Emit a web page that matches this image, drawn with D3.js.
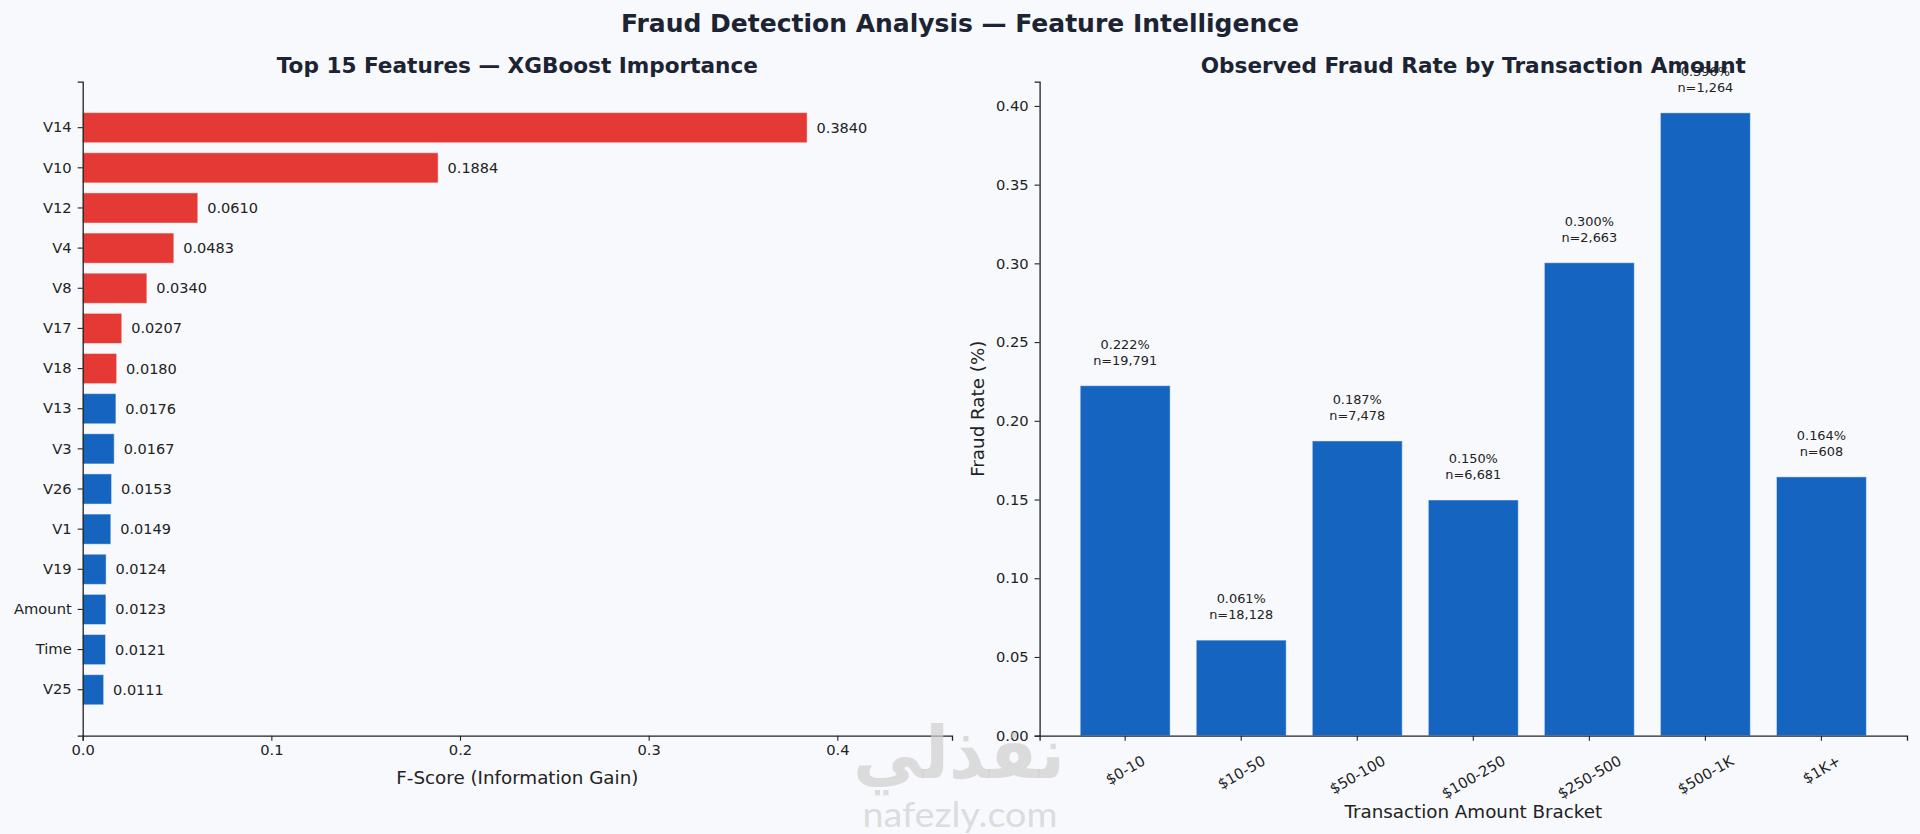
<!DOCTYPE html>
<html>
<head>
<meta charset="utf-8">
<script src="https://cdn.jsdelivr.net/npm/d3@7"></script>
<style>
  html, body { margin: 0; padding: 0; background: #f7f9fc; }
  svg { display: block; font-family: "DejaVu Sans", sans-serif; }
</style>
</head>
<body>
<svg id="chart" width="1920" height="834"></svg>
<script>
// left panel: XGBoost feature importance (top 15)
let features = ['V14', 'V10', 'V12', 'V4', 'V8', 'V17', 'V18', 'V13', 'V3', 'V26', 'V1', 'V19', 'Amount', 'Time', 'V25'];
let importance = [0.384, 0.1884, 0.061, 0.0483, 0.034, 0.0207, 0.018, 0.0176, 0.0167, 0.0153, 0.0149, 0.0124, 0.0123, 0.0121, 0.0111];
let highlighted = [true, true, true, true, true, true, true, false, false, false, false, false, false, false, false];
let importanceTicks = [0, 0.1, 0.2, 0.3, 0.4];

// right panel: observed fraud rate by amount bracket
let brackets = ['$0-10', '$10-50', '$50-100', '$100-250', '$250-500', '$500-1K', '$1K+'];
let fraudRate = [0.2223, 0.0607, 0.1872, 0.1497, 0.3004, 0.3956, 0.1644];
let bracketCount = [19791, 18128, 7478, 6681, 2663, 1264, 608];
let rateTicks = [0, 0.05, 0.1, 0.15, 0.2, 0.25, 0.3, 0.35, 0.4];

let red = '#e53935';
let blue = '#1565c0';
let ink = '#1c2333';
let axisColor = '#222';

let svg = d3.select('#chart');

let plotTop = 81.7, plotBottom = 735.7;
let leftBox = { x0: 82.7, x1: 952 };
let rightBox = { x0: 1039.6, x1: 1907 };

// titles
svg.append('text')
    .attr('x', 960).attr('y', 23)
    .attr('text-anchor', 'middle').attr('dominant-baseline', 'central')
    .attr('font-size', '25px').attr('font-weight', 'bold').attr('fill', ink)
    .text('Fraud Detection Analysis \u2014 Feature Intelligence');

function panelTitle(cx, label) {
    svg.append('text')
        .attr('x', cx).attr('y', 65)
        .attr('text-anchor', 'middle').attr('dominant-baseline', 'central')
        .attr('font-size', '21.6px').attr('font-weight', 'bold').attr('fill', ink)
        .text(label);
}
panelTitle((leftBox.x0 + leftBox.x1) / 2, 'Top 15 Features \u2014 XGBoost Importance');
panelTitle((rightBox.x0 + rightBox.x1) / 2, 'Observed Fraud Rate by Transaction Amount');

// ---------- left panel ----------
let xImp = d3.scaleLinear().domain([0, d3.max(importance) * 1.2]).range([leftBox.x0, leftBox.x1]);
let yFeat = d3.scaleBand().domain(features).range([plotTop, plotBottom]).paddingInner(0.25).paddingOuter(0.77);

let left = svg.append('g');

left.selectAll('rect.imp')
    .data(features)
    .enter()
    .append('rect')
    .attr('class', 'imp')
    .attr('x', xImp(0))
    .attr('y', (d) => yFeat(d))
    .attr('width', (d, i) => xImp(importance[i]) - xImp(0))
    .attr('height', yFeat.bandwidth())
    .attr('fill', (d, i) => (highlighted[i] ? red : blue))
    .attr('stroke', 'white').attr('stroke-opacity', 0.45).attr('stroke-width', 1);

left.selectAll('text.imp')
    .data(features)
    .enter()
    .append('text')
    .attr('class', 'imp')
    .attr('x', (d, i) => xImp(importance[i] + 0.005))
    .attr('y', (d) => yFeat(d) + yFeat.bandwidth() / 2)
    .attr('dominant-baseline', 'central')
    .attr('font-size', '14.5px').attr('fill', axisColor)
    .text((d, i) => importance[i].toFixed(4));

let xAxisL = left.append('g')
    .attr('transform', `translate(0,${plotBottom})`)
    .call(d3.axisBottom(xImp).tickValues(importanceTicks).tickFormat(d3.format('.1f')).tickSizeOuter(0).tickSize(5).tickPadding(4));
let yAxisL = left.append('g')
    .attr('transform', `translate(${leftBox.x0},0)`)
    .call(d3.axisLeft(yFeat).tickSizeOuter(0).tickSize(5).tickPadding(6));

left.append('text')
    .attr('x', (leftBox.x0 + leftBox.x1) / 2).attr('y', 777.3)
    .attr('text-anchor', 'middle').attr('dominant-baseline', 'central')
    .attr('font-size', '18.3px').attr('fill', axisColor)
    .text('F-Score (Information Gain)');

// ---------- right panel ----------
let xBr = d3.scaleBand().domain(brackets).range([rightBox.x0, rightBox.x1]).paddingInner(0.225).paddingOuter(0.35);
let yRate = d3.scaleLinear().domain([0, d3.max(fraudRate) * 1.05]).range([plotBottom, plotTop]);

let right = svg.append('g');

right.selectAll('rect.rate')
    .data(brackets)
    .enter()
    .append('rect')
    .attr('class', 'rate')
    .attr('x', (d) => xBr(d))
    .attr('y', (d, i) => yRate(fraudRate[i]))
    .attr('width', xBr.bandwidth())
    .attr('height', (d, i) => yRate(0) - yRate(fraudRate[i]))
    .attr('fill', blue)
    .attr('stroke', 'white').attr('stroke-opacity', 0.45).attr('stroke-width', 1);

let notes = right.selectAll('g.note')
    .data(brackets)
    .enter()
    .append('g')
    .attr('class', 'note')
    .attr('text-anchor', 'middle')
    .attr('font-size', '12.9px')
    .attr('fill', axisColor);
notes.append('text')
    .attr('x', (d) => xBr(d) + xBr.bandwidth() / 2)
    .attr('y', (d, i) => yRate(fraudRate[i]) - 36.9)
    .text((d, i) => fraudRate[i].toFixed(3) + '%');
notes.append('text')
    .attr('x', (d) => xBr(d) + xBr.bandwidth() / 2)
    .attr('y', (d, i) => yRate(fraudRate[i]) - 20.9)
    .text((d, i) => 'n=' + d3.format(',')(bracketCount[i]));

let xAxisR = right.append('g')
    .attr('transform', `translate(0,${plotBottom})`)
    .call(d3.axisBottom(xBr).tickSizeOuter(0).tickSize(5));
let yAxisR = right.append('g')
    .attr('transform', `translate(${rightBox.x0},0)`)
    .call(d3.axisLeft(yRate).tickValues(rateTicks).tickFormat(d3.format('.2f')).tickSizeOuter(0).tickSize(5).tickPadding(6));

// shared axis styling
[xAxisL, yAxisL, xAxisR, yAxisR].forEach((a) => {
    a.select('.domain').attr('stroke', axisColor).attr('stroke-width', 1.3);
    a.selectAll('.tick line').attr('stroke', axisColor).attr('stroke-width', 1.1);
    a.selectAll('.tick text').attr('font-size', '14.7px').attr('fill', axisColor).attr('font-family', '"DejaVu Sans", sans-serif');
});

// rotated bracket labels, centred on the tick like matplotlib's rotation=30
xAxisR.selectAll('.tick text').each(function () {
    let t = d3.select(this);
    t.attr('y', null).attr('dy', null).attr('dominant-baseline', 'central').attr('text-anchor', 'middle');
    let w = this.getComputedTextLength();
    let h = 14.7 * 1.16;
    let boxH = w * Math.sin(Math.PI / 6) + h * Math.cos(Math.PI / 6);
    t.attr('transform', `translate(0,${751.7 - plotBottom + boxH / 2}) rotate(-30)`);
});

right.append('text')
    .attr('x', (rightBox.x0 + rightBox.x1) / 2).attr('y', 811.7)
    .attr('text-anchor', 'middle').attr('dominant-baseline', 'central')
    .attr('font-size', '18.3px').attr('fill', axisColor)
    .text('Transaction Amount Bracket');

right.append('text')
    .attr('transform', `translate(977,${(plotTop + plotBottom) / 2}) rotate(-90)`)
    .attr('text-anchor', 'middle').attr('dominant-baseline', 'central')
    .attr('font-size', '18.3px').attr('fill', axisColor)
    .text('Fraud Rate (%)');

// watermark over the middle
let mark = svg.append('g').attr('fill', '#cfcfcf').attr('fill-opacity', 0.7).attr('text-anchor', 'middle');
mark.append('text')
    .attr('x', 959).attr('y', 778)
    .attr('font-size', '72px').attr('font-weight', 'bold')
    .attr('textLength', 212).attr('lengthAdjust', 'spacingAndGlyphs')
    .text('نفذلي');
mark.append('text')
    .attr('x', 960).attr('y', 827)
    .attr('font-size', '34px').attr('font-family', 'Lato, sans-serif')
    .attr('textLength', 195).attr('lengthAdjust', 'spacingAndGlyphs')
    .text('nafezly.com');
</script>
</body>
</html>
